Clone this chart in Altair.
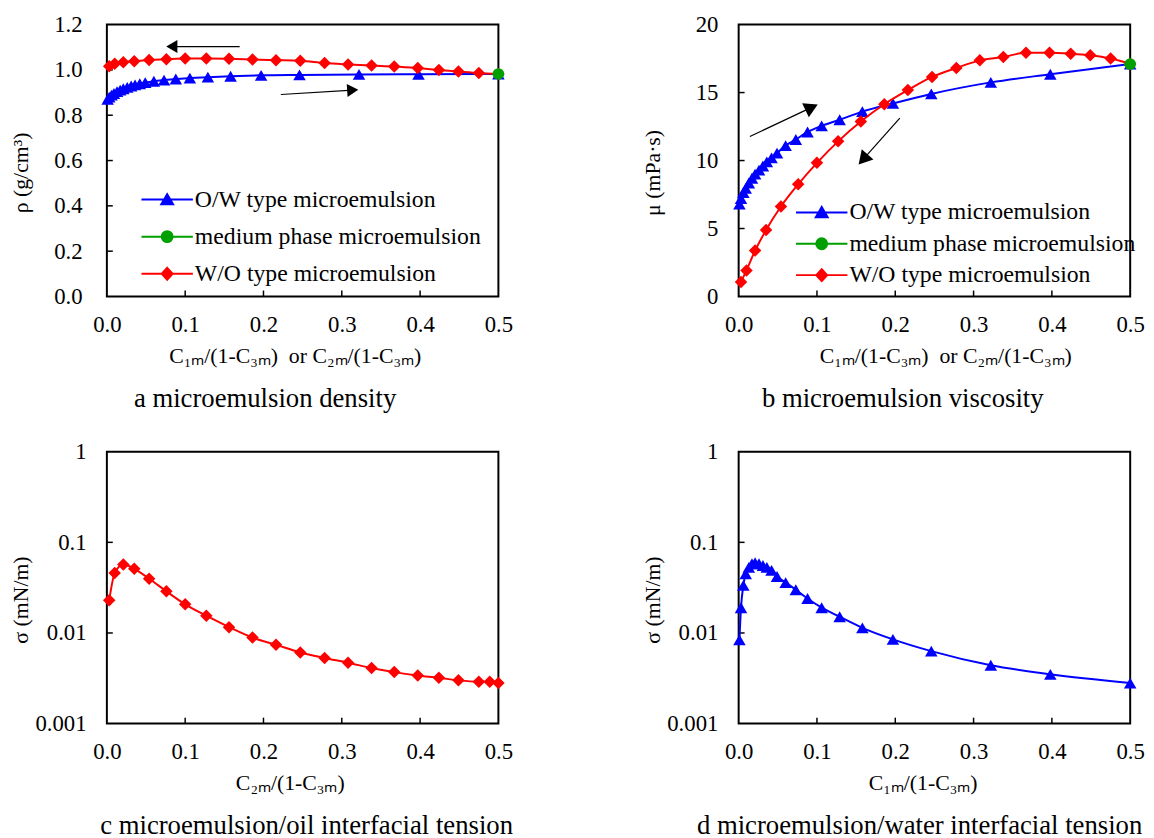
import math
import altair as alt
import pandas as pd

FONT = "Liberation Serif"

# ---------------- data ----------------
SERIES = ["O/W type microemulsion", "medium phase microemulsion", "W/O type microemulsion"]
COLORS = ["#0000ff", "#00a000", "#ff0000"]

OW_X = [0.001, 0.003, 0.006, 0.009, 0.013, 0.017, 0.021, 0.026, 0.031, 0.036, 0.042, 0.049,
        0.060, 0.073, 0.088, 0.106, 0.129, 0.158, 0.197, 0.246, 0.322, 0.398, 0.5]
OW_RHO = [0.870, 0.880, 0.889, 0.896, 0.904, 0.911, 0.917, 0.923, 0.929, 0.934, 0.939, 0.944,
          0.950, 0.955, 0.960, 0.964, 0.968, 0.972, 0.976, 0.978, 0.980, 0.981, 0.982]
OW_MU = [6.8, 7.2, 7.65, 7.95, 8.35, 8.7, 9.0, 9.3, 9.6, 9.9, 10.2, 10.55,
         11.1, 11.55, 12.1, 12.55, 13.0, 13.6, 14.2, 14.9, 15.75, 16.35, 17.1]
OW_SIGMA = [0.0084, 0.0190, 0.0335, 0.045, 0.053, 0.058, 0.0595, 0.058, 0.0555, 0.053, 0.049, 0.042,
            0.036, 0.030, 0.024, 0.019, 0.0151, 0.0114, 0.0085, 0.0063, 0.0044, 0.0035, 0.0028]

WO_X = [0.003, 0.010, 0.021, 0.035, 0.054, 0.076, 0.100, 0.127, 0.156, 0.186, 0.216,
        0.247, 0.278, 0.308, 0.338, 0.367, 0.397, 0.424, 0.449, 0.475, 0.5]
WO_RHO = [1.016, 1.027, 1.034, 1.038, 1.044, 1.047, 1.050, 1.050, 1.049, 1.046, 1.043,
          1.040, 1.030, 1.024, 1.019, 1.015, 1.008, 1.000, 0.993, 0.986, 0.982]
WO_MU = [1.07, 1.92, 3.38, 4.89, 6.62, 8.25, 9.83, 11.41, 12.87, 14.14, 15.18,
         16.15, 16.81, 17.37, 17.62, 17.93, 17.93, 17.86, 17.74, 17.5, 17.1]
WO_SIG_X = [0.003, 0.010, 0.021, 0.035, 0.054, 0.076, 0.100, 0.127, 0.156, 0.186, 0.216,
            0.247, 0.278, 0.308, 0.338, 0.367, 0.397, 0.424, 0.449, 0.475, 0.489, 0.5]
WO_SIGMA = [0.023, 0.0458, 0.0569, 0.051, 0.0397, 0.0288, 0.0207, 0.0155, 0.0116, 0.0089, 0.0074,
            0.0061, 0.0053, 0.0047, 0.0041, 0.0037, 0.0034, 0.0032, 0.0030, 0.0029, 0.0029, 0.0028]

MED_X = [0.5]
MED_RHO = [0.982]
MED_MU = [17.1]

# arrows: (x start, y start, x tip, y tip)
A_ARROWS = [(0.1696, 1.103, 0.0758, 1.103), (0.2222, 0.8916, 0.3211, 0.912)]
B_ARROWS = [(0.0143, 11.77, 0.1010, 14.12), (0.2058, 13.12, 0.1532, 9.71)]

X_TICKS = [0.0, 0.1, 0.2, 0.3, 0.4, 0.5]
X_INNER = [0.1, 0.2, 0.3, 0.4]
A_TICKS = [0.0, 0.2, 0.4, 0.6, 0.8, 1.0, 1.2]
B_TICKS = [0, 5, 10, 15, 20]
LOG_TICKS = [0.001, 0.01, 0.1, 1]

XT_AB = "C\u2081\u2098/(1-C\u2083\u2098)\u00a0\u00a0or C\u2082\u2098/(1-C\u2083\u2098)"
XT_C = "C\u2082\u2098/(1-C\u2083\u2098)"
XT_D = "C\u2081\u2098/(1-C\u2083\u2098)"

# ---------------- layout constants ----------------
W, H = 396, 275
TICK_FS = 23
LEG_FS = 24
CAP_FS = 27

# legend symbols: line segment + marker (unit = sqrt(size)/2 = 5 px)
LEG_PATHS = [
    "M-5.2,0L5.2,0M0,-1.1L1.2,0.95L-1.2,0.95Z",
    "M-5.2,0L5.2,0M1.1,0A1.1,1.1,0,1,1,-1.1,0A1.1,1.1,0,1,1,1.1,0Z",
    "M-5.2,0L5.2,0M0,-1.2L1.1,0L0,1.2L-1.1,0Z",
]
MARK_SHAPES = ["triangle-up", "circle", "diamond"]
MARK_SIZES = [160, 140, 160]


def make_x(title, tx):
    return alt.X(
        "x:Q",
        scale=alt.Scale(domain=[0, 0.5], nice=False, zero=False),
        axis=alt.Axis(values=X_TICKS, format=".1f", title=title, ticks=False, tickSize=0,
                      domain=False, grid=False, labelPadding=17, labelFlush=False,
                      labelOverlap=False, labelFont=FONT, labelFontSize=TICK_FS,
                      labelColor="black", titleFont=FONT, titleFontSize=22,
                      titleFontWeight="normal", titleColor="black", titleX=tx, titleY=67,
                      titleBaseline="alphabetic", titleAlign="center"),
    )


def make_y(title, scale, values, fmt, lpad):
    return alt.Y(
        "y:Q",
        scale=scale,
        axis=alt.Axis(values=values, format=fmt, title=title, ticks=False, tickSize=0,
                      domain=False, grid=False, labelPadding=lpad, labelFlush=False,
                      labelOverlap=False, labelFont=FONT, labelFontSize=TICK_FS,
                      labelColor="black", titleFont=FONT, titleFontSize=22,
                      titleFontWeight="normal", titleColor="black", titleX=-75,
                      titleY=H / 2 + 12, titleAngle=270, titleBaseline="bottom",
                      titleAlign="center"),
    )


def series_layers(X, Y, xs, ys, idx):
    df = pd.DataFrame({"x": xs, "y": ys})
    out = []
    if len(xs) > 1:
        out.append(alt.Chart(df).mark_line(color=COLORS[idx], strokeWidth=2,
                                           interpolate="monotone").encode(x=X, y=Y))
    out.append(alt.Chart(df).mark_point(filled=True, opacity=1, shape=MARK_SHAPES[idx],
                                        size=MARK_SIZES[idx], color=COLORS[idx])
               .encode(x=X, y=Y))
    return out


def tick_layers(X, Y, yinner):
    ydf = pd.DataFrame({"y": yinner})
    xdf = pd.DataFrame({"x": X_INNER})
    return [
        alt.Chart(ydf).mark_rule(color="black", strokeWidth=1.5)
        .encode(y=Y, x=alt.value(0), x2=alt.value(6)),
        alt.Chart(xdf).mark_rule(color="black", strokeWidth=1.5)
        .encode(x=X, y=alt.value(H), y2=alt.value(H - 6)),
    ]


def arrow_layers(X, Y, arrows, ypx, head):
    xpx = W / 0.5
    rows, heads = [], []
    r = math.sqrt(head) / 2
    h = math.sqrt(3) / 2 * r
    for (x0, y0, x1, y1) in arrows:
        dxp = (x1 - x0) * xpx
        dyp = -(y1 - y0) * ypx
        L = math.hypot(dxp, dyp)
        ux, uy = dxp / L, dyp / L
        ang = math.degrees(math.atan2(ux, -uy)) % 360
        hx = x1 - ux * h / xpx
        hy = y1 + uy * h / ypx
        rows.append({"x": x0, "y": y0, "x2": hx, "y2": hy})
        heads.append({"x": hx, "y": hy, "ang": ang})
    return [
        alt.Chart(pd.DataFrame(rows)).mark_rule(color="black", strokeWidth=1.2)
        .encode(x=X, y=Y, x2="x2:Q", y2="y2:Q"),
        alt.Chart(pd.DataFrame(heads)).mark_point(shape="triangle-up", filled=True,
                                                  opacity=1, color="black", size=head)
        .encode(x=X, y=Y, angle=alt.Angle("ang:Q", scale=None)),
    ]


def legend_layer(X, Y, ymid, lx, ly, rowpad):
    df = pd.DataFrame({"x": [-1.0] * 3, "y": [ymid] * 3, "series": SERIES})
    leg = alt.Legend(orient="none", legendX=lx, legendY=ly, title=None, labelFont=FONT,
                     labelFontSize=LEG_FS, labelColor="black", labelLimit=500,
                     symbolSize=100, symbolStrokeWidth=2, symbolOffset=21, labelOffset=16,
                     rowPadding=rowpad, padding=0, direction="vertical")
    return alt.Chart(df).mark_point(filled=True, opacity=1, size=100, strokeWidth=2,
                                    clip=True).encode(
        x=X, y=Y,
        fill=alt.Fill("series:N", scale=alt.Scale(domain=SERIES, range=COLORS), legend=leg),
        stroke=alt.Stroke("series:N", scale=alt.Scale(domain=SERIES, range=COLORS), legend=leg),
        shape=alt.Shape("series:N", scale=alt.Scale(domain=SERIES, range=LEG_PATHS), legend=leg),
    )


def caption(text, dx):
    return alt.TitleParams(text=text, orient="bottom", anchor="middle", frame="group",
                           font=FONT, fontSize=CAP_FS, fontWeight="normal", color="black",
                           offset=20, dx=dx)


# ---------------- panel a ----------------
Xa = make_x(XT_AB, 190)
Ya = make_y("\u03c1 (g/cm\u00b3)", alt.Scale(domain=[0, 1.2], nice=False, zero=False),
            A_TICKS, ".1f", 25)
pa_layers = (tick_layers(Xa, Ya, [0.2, 0.4, 0.6, 0.8, 1.0])
             + series_layers(Xa, Ya, OW_X, OW_RHO, 0)
             + series_layers(Xa, Ya, WO_X, WO_RHO, 2)
             + series_layers(Xa, Ya, MED_X, MED_RHO, 1)
             + arrow_layers(Xa, Ya, A_ARROWS, H / 1.2, 170)
             + [legend_layer(Xa, Ya, 0.5, 28, 165, 13.5)])
pa = alt.layer(*pa_layers).properties(width=W, height=H,
                                       title=caption("a microemulsion density", -38))

# ---------------- panel b ----------------
Xb = make_x(XT_AB, 209)
Yb = make_y("\u03bc (mPa\u00b7s)", alt.Scale(domain=[0, 20], nice=False, zero=False),
            B_TICKS, "d", 21)
pb_layers = (tick_layers(Xb, Yb, [5, 10, 15])
             + series_layers(Xb, Yb, OW_X, OW_MU, 0)
             + series_layers(Xb, Yb, WO_X, WO_MU, 2)
             + series_layers(Xb, Yb, MED_X, MED_MU, 1)
             + arrow_layers(Xb, Yb, B_ARROWS, H / 20, 250)
             + [legend_layer(Xb, Yb, 5, 51, 178, 7.7)])
pb = alt.layer(*pb_layers).properties(width=W, height=H,
                                       title=caption("b microemulsion viscosity", -32))

# ---------------- panel c ----------------
Xc = make_x(XT_C, 185)
Yc = make_y("\u03c3 (mN/m)", alt.Scale(type="log", domain=[0.001, 1], nice=False),
            LOG_TICKS, "~g", 21)
pc_layers = (tick_layers(Xc, Yc, [0.01, 0.1])
             + series_layers(Xc, Yc, WO_SIG_X, WO_SIGMA, 2))
pc = alt.layer(*pc_layers).properties(
    width=W, height=H, title=caption("c microemulsion/oil interfacial tension", 4))

# ---------------- panel d ----------------
Xd = make_x(XT_D, 186)
Yd = make_y("\u03c3 (mN/m)", alt.Scale(type="log", domain=[0.001, 1], nice=False),
            LOG_TICKS, "~g", 21)
pd_layers = (tick_layers(Xd, Yd, [0.01, 0.1])
             + series_layers(Xd, Yd, OW_X, OW_SIGMA, 0))
pdd = alt.layer(*pd_layers).properties(
    width=W, height=H, title=caption("d microemulsion/water interfacial tension", -15))

chart = (
    alt.concat(pa, pb, pc, pdd, columns=2)
    .resolve_scale(fill="independent", stroke="independent", shape="independent")
    .resolve_legend(fill="independent", stroke="independent", shape="independent")
    .properties(spacing={"row": 157, "column": 243}, bounds="flush",
                padding={"left": 1, "top": 0, "right": 0, "bottom": 0},
                background="white")
    .configure_view(stroke="black", strokeWidth=2)
)

chart.save("out.html", embed_options={"renderer": "svg", "actions": False})
